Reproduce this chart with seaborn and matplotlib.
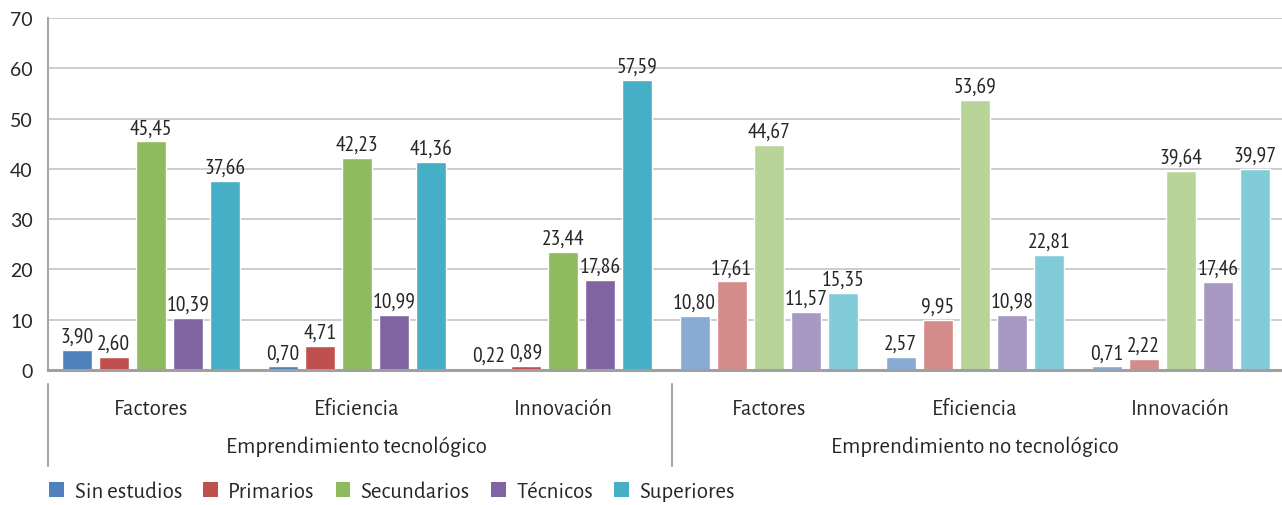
import matplotlib
matplotlib.use("Agg")
import matplotlib.pyplot as plt
from matplotlib.patches import Patch
from matplotlib.lines import Line2D
import seaborn as sns
import pandas as pd

# Educational level shares by competitiveness stage and type of entrepreneurship (%)
niveles = ["Sin estudios", "Primarios", "Secundarios", "Técnicos", "Superiores"]
grupos = ["Factores", "Eficiencia", "Innovación"]
sectores = ["Emprendimiento tecnológico", "Emprendimiento no tecnológico"]

tec_factores = [3.90, 2.60, 45.45, 10.39, 37.66]
tec_eficiencia = [0.70, 4.71, 42.23, 10.99, 41.36]
tec_innovacion = [0.22, 0.89, 23.44, 17.86, 57.59]

notec_factores = [10.80, 17.61, 44.67, 11.57, 15.35]
notec_eficiencia = [2.57, 9.95, 53.69, 10.98, 22.81]
notec_innovacion = [0.71, 2.22, 39.64, 17.46, 39.97]

colores_tec = ["#4F81BD", "#C0504D", "#8DBB5E", "#8064A2", "#46AFC6"]
colores_notec = ["#87ABD3", "#D48C8B", "#B8D498", "#A899C2", "#82CCDA"]

yticks = [0, 10, 20, 30, 40, 50, 60, 70]

TXT = "#262626"
FUENTE = ["Alegreya Sans", "DejaVu Sans"]
FUENTE_NUM = ["Lato", "DejaVu Sans"]
FUENTE_VALORES = ["PT Sans Narrow", "DejaVu Sans"]


# Long-format tables, one per sector; x keys are unique per sector/stage
def tabla(prefijo, series):
    filas = []
    for g, vals in zip(grupos, series):
        for n, v in zip(niveles, vals):
            filas.append({"cat": f"{prefijo}|{g}", "nivel": n, "valor": v})
    return pd.DataFrame(filas)


df_tec = tabla("tec", [tec_factores, tec_eficiencia, tec_innovacion])
df_notec = tabla("notec", [notec_factores, notec_eficiencia, notec_innovacion])
orden = [f"tec|{g}" for g in grupos] + [f"notec|{g}" for g in grupos]

sns.set_style("white")
plt.rcParams["font.family"] = FUENTE

fig = plt.figure(figsize=(12.82, 5.06), dpi=100)
ax = fig.add_axes([0.0374, 0.2668, 0.9640, 0.6957])

for df, pal in ((df_tec, colores_tec), (df_notec, colores_notec)):
    sns.barplot(data=df, x="cat", y="valor", hue="nivel", order=orden,
                hue_order=niveles, palette=pal, width=0.9, gap=0.19,
                saturation=1, legend=False, ax=ax)

# Value labels with decimal comma
for cont in ax.containers:
    ax.bar_label(cont, labels=[f"{v:.2f}".replace(".", ",") for v in cont.datavalues],
                 padding=3, fontsize=15.5, color=TXT, family=FUENTE_VALORES)

ax.set_xlim(-0.5, 5.5)
ax.set_ylim(0, 70)
ax.set_yticks(yticks)
ax.set_yticklabels([str(t) for t in yticks], family=FUENTE_NUM)
ax.yaxis.grid(True, color="#C4C4C4", linewidth=1.2)
ax.set_axisbelow(True)
ax.set_xlabel("")
ax.set_ylabel("")

ax.set_xticks(range(len(orden)))
ax.set_xticklabels(grupos * 2)
ax.tick_params(axis="x", length=0, pad=19.5, labelsize=16.5, labelcolor=TXT)
ax.tick_params(axis="y", length=0, pad=11, labelsize=14, labelcolor=TXT)

for s in ("top", "right"):
    ax.spines[s].set_visible(False)
ax.spines["left"].set_color("#A6A6A6")
ax.spines["left"].set_linewidth(1.5)
ax.spines["bottom"].set_color("#A0A0A0")
ax.spines["bottom"].set_linewidth(2.2)

# Second-level category labels and separators
tr = ax.get_xaxis_transform()
for i, sec in enumerate(sectores):
    ax.text(3 * i + 1, -0.215, sec, transform=tr, ha="center", va="center",
            fontsize=16.5, color=TXT)
for xs in (-0.5, 2.53):
    ax.add_line(Line2D([xs, xs], [-0.04, -0.273], transform=tr, color="#A6A6A6",
                       linewidth=1.5, clip_on=False))

handles = [Patch(facecolor=c, edgecolor="none", label=n) for c, n in zip(colores_tec, niveles)]
fig.legend(handles=handles, loc="lower left", bbox_to_anchor=(0.0225, -0.033), ncol=5,
           frameon=False, fontsize=16.5, handlelength=0.63, handleheight=0.63,
           handletextpad=0.47, columnspacing=0.92, labelcolor=TXT)

fig.savefig("out.png", dpi=100)
